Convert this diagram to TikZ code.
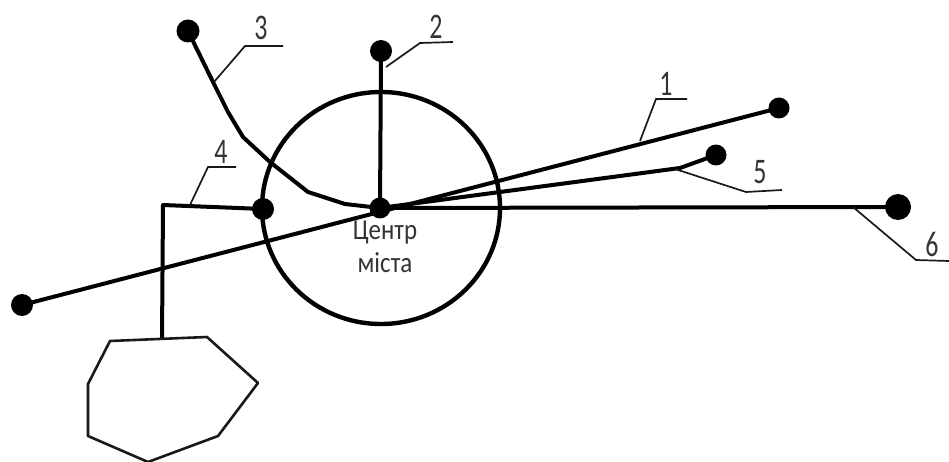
\documentclass[tikz,border=0pt]{standalone}
\usepackage{fontspec}
\setmainfont{Carlito}
\usetikzlibrary{shapes.geometric}
\tikzset{
  dot/.style={circle,fill=black,inner sep=0pt,outer sep=0pt},
  route/.style={line width=4pt,line join=round},
  leader/.style={line width=1.7pt,line join=miter,draw=black!90},
  num/.style={inner sep=0pt,text=black!80,xscale=0.72,font=\fontsize{36}{36}\selectfont},
  citytext/.style={inner sep=0pt,text=black!80,xscale=0.86,font=\fontsize{29}{29}\selectfont}
}
\begin{document}
\begin{tikzpicture}[x=1pt,y=-1pt]
\useasboundingbox (0,0) rectangle (949,462);
% city circle
\node[ellipse,draw,line width=4.4pt,minimum width=238pt,minimum height=232pt,inner sep=0pt] (city) at (381,208) {};
% route ends
\node[dot,minimum size=21pt] (c) at (380,208) {};
\node[dot,minimum size=21pt] (e1) at (779,108) {};
\node[dot,minimum size=22pt] (w1) at (22,305) {};
\node[dot,minimum size=22pt] (e2) at (381,51) {};
\node[dot,minimum size=23pt] (e3) at (188,31) {};
\node[dot,minimum size=22pt] (e4) at (263,209) {};
\node[dot,minimum size=21pt] (e5) at (716,155) {};
\node[dot,minimum size=26pt] (e6) at (898,207) {};
% routes
\coordinate (b4) at (163,205);
\coordinate (p1) at (110,341);
\coordinate (p2) at (207,337);
\coordinate (p3) at (258,383);
\coordinate (p4) at (218,436);
\coordinate (p5) at (148,462);
\coordinate (p6) at (88,436);
\coordinate (p7) at (88,384);
\coordinate (b4e) at (162,339);
\draw[route] (w1.center) -- (e1.center);
\draw[route] (c.center) -- (e2.center);
\draw[route] (e3.center) -- (213,82) -- (228,112) -- (243,137) -- (270,162) -- (308,192) -- (345,204) -- (c.center);
\draw[route] (e4.center) -- (b4) -- (b4e);
\draw[route] (c.center) -- (680,168) -- (e5.center);
\draw[route] (c.center) -- (e6.center);
% outline
\draw[line width=2.6pt,line join=round,draw=black!90] (p1) -- (p2) -- (p3) -- (p4) -- (p5) -- (p6) -- (p7) -- cycle;
% leaders
\coordinate (l1a) at (640,141);
\coordinate (l2a) at (386,67);
\coordinate (l3a) at (214,82);
\coordinate (l4a) at (190,205);
\coordinate (l5a) at (675,169);
\coordinate (l6a) at (853,207);
\coordinate (l1b) at (656,99);
\coordinate (l1c) at (687,99);
\coordinate (l2b) at (420,43);
\coordinate (l2c) at (453,42);
\coordinate (l3b) at (245,46);
\coordinate (l3c) at (283,46);
\coordinate (l4b) at (208,167);
\coordinate (l4c) at (236,167);
\coordinate (l5b) at (746,192);
\coordinate (l5c) at (782,190);
\coordinate (l6b) at (916,260);
\coordinate (l6c) at (949,261);
\draw[leader] (l1a) -- (l1b) -- (l1c);
\draw[leader] (l2a) -- (l2b) -- (l2c);
\draw[leader] (l3a) -- (l3b) -- (l3c);
\draw[leader] (l4a) -- (l4b) -- (l4c);
\draw[leader] (l5a) -- (l5b) -- (l5c);
\draw[leader] (l6a) -- (l6b) -- (l6c);
% labels
\node[num] (n1) at (666,84) {1};
\node[num] (n2) at (436,27) {2};
\node[num] (n3) at (261,28) {3};
\node[num] (n4) at (221,152) {4};
\node[num] (n5) at (760,172) {5};
\node[num] (n6) at (932,244) {6};
\node[citytext] (t1) at (385,233) {Центр};
\node[citytext] (t2) at (385,263) {міста};
\end{tikzpicture}
\end{document}
